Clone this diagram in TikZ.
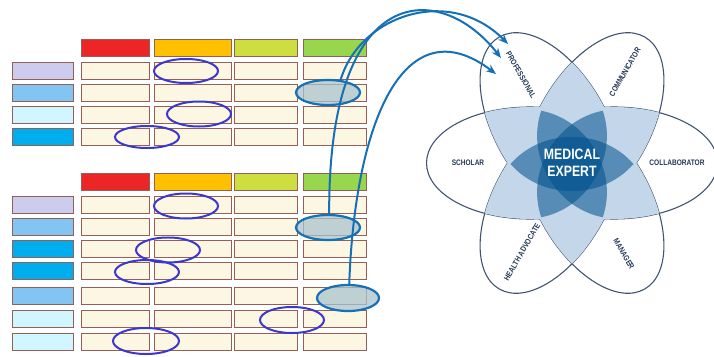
\documentclass[tikz,border=0pt]{standalone}
\usepackage{fontspec}
\newfontfamily\petalfont[FakeStretch=0.82]{Liberation Sans}
\usetikzlibrary{shapes.geometric,arrows.meta}

\definecolor{cellfill}{RGB}{252,247,226}
\definecolor{cellline}{RGB}{150,95,85}
\definecolor{hred}{RGB}{236,38,38}
\definecolor{horange}{RGB}{255,192,0}
\definecolor{hlime}{RGB}{204,222,64}
\definecolor{hgreen}{RGB}{152,214,78}
\definecolor{lav}{RGB}{204,204,238}
\definecolor{skyb}{RGB}{130,196,242}
\definecolor{palec}{RGB}{208,246,255}
\definecolor{deepb}{RGB}{0,174,239}
\definecolor{ringc}{RGB}{60,55,205}
\definecolor{arrowc}{RGB}{22,112,182}
\definecolor{markfill}{RGB}{170,195,205}
\definecolor{petline}{RGB}{65,85,115}
\definecolor{petlight}{RGB}{195,214,234}
\definecolor{petdark}{RGB}{0,80,140}
\definecolor{labc}{RGB}{35,55,85}

\tikzset{
  cell/.style={draw=cellline, line width=0.8pt, fill=cellfill, inner sep=0pt, minimum height=17pt},
  ring/.style={ellipse, draw=ringc, line width=2pt, inner sep=0pt},
  pick/.style={ellipse, draw=arrowc, line width=2.2pt, fill=markfill, fill opacity=0.75, inner sep=0pt},
  petal/.style={shift={(572,163)}, rotate=60*#1},
  lens/.style={shift={(572,164)}, rotate=60*#1, fill=petdark, fill opacity=0.55},
  role/.style={font=\petalfont\bfseries\fontsize{8}{9}\selectfont, text=labc, inner sep=1pt},
  link/.style={draw=arrowc, line width=2pt, -{Stealth[length=10pt,width=8pt]}},
}

\begin{document}
\begin{tikzpicture}[x=1pt, y=-1pt]
   \useasboundingbox (0,0) rectangle (714,356);
   \def\cols{115/68, 192.5/77, 265.5/63, 334.5/63}
   \def\ax{103.5}  % petal half length
   \def\bx{56}     % petal half width

   % upper table
   \foreach \x/\w/\col [count=\c] in {115/68/hred, 192.5/77/horange, 265.5/63/hlime, 334.5/63/hgreen}
      \node[cell, fill=\col, minimum width=\w pt] (t-h\c) at (\x,48) {};
   \foreach \y/\col [count=\r] in {71/lav, 93/skyb, 115/palec, 137/deepb}{
      \node[cell, fill=\col, minimum width=61pt] (t-l\r) at (42.5,\y) {};
      \foreach \x/\w [count=\c] in \cols
         \node[cell, minimum width=\w pt] (t-\r-\c) at (\x,\y) {};
   }

   % lower table
   \foreach \x/\w/\col [count=\c] in {115/68/hred, 192.5/77/horange, 265.5/63/hlime, 334.5/63/hgreen}
      \node[cell, fill=\col, minimum width=\w pt] (b-h\c) at (\x,182) {};
   \foreach \y/\col [count=\r] in {205/lav, 227/skyb, 249/deepb, 271/deepb, 296/skyb, 319/palec, 342/palec}{
      \node[cell, fill=\col, minimum width=61pt] (b-l\r) at (42.5,\y) {};
      \foreach \x/\w [count=\c] in \cols
         \node[cell, minimum width=\w pt] (b-\r-\c) at (\x,\y) {};
   }

   % marks on the tables
   \node[ring, minimum width=64pt, minimum height=24pt] (t-o1) at (186,71) {};
   \node[pick, minimum width=64pt, minimum height=25pt] (t-o2) at (328,92.5) {};
   \node[ring, minimum width=64pt, minimum height=25pt] (t-o3) at (199,114) {};
   \node[ring, minimum width=64pt, minimum height=22pt] (t-o4) at (147,137) {};
   \node[ring, minimum width=64pt, minimum height=25pt] (b-o1) at (186,206) {};
   \node[pick, minimum width=64pt, minimum height=25pt] (b-o2) at (328,227.5) {};
   \node[ring, minimum width=64pt, minimum height=25pt] (b-o3) at (168,250) {};
   \node[ring, minimum width=64pt, minimum height=24pt] (b-o4) at (147,272) {};
   \node[pick, minimum width=62pt, minimum height=26pt] (b-o5) at (348,298) {};
   \node[ring, minimum width=64pt, minimum height=26pt] (b-o6) at (292,320) {};
   \node[ring, minimum width=66pt, minimum height=26pt] (b-o7) at (146,341) {};

   % flower
   \foreach \i in {0,...,5}
      \draw[petal=\i, petline, line width=1.1pt] (42,0) ellipse [x radius=\ax, y radius=\bx];
   \foreach \i in {1,...,5}{
      \pgfmathtruncatemacro{\k}{\i-1}
      \foreach \j in {0,...,\k}{
         \begin{scope}
            \clip[petal=\i] (42,0) ellipse [x radius=\ax, y radius=\bx];
            \fill[petal=\j, petlight] (42,0) ellipse [x radius=\ax, y radius=\bx];
         \end{scope}
      }
   }
   \foreach \i in {0,1,2}
      \fill[lens=\i] (-61.5,0) to[bend left=49] (61.5,0) to[bend left=49] (-61.5,0);

   \node[role] (scholar) at (468,163) {SCHOLAR};
   \node[role] (collab) at (677,163) {COLLABORATOR};
   \node[role, rotate=-60] (prof) at (521,75) {PROFESSIONAL};
   \node[role, rotate=60] (comm) at (625,72) {COMMUNICATOR};
   \node[role, rotate=60] (health) at (522,252) {HEALTH ADVOCATE};
   \node[role, rotate=-60] (manager) at (624,254) {MANAGER};
   \node[align=center, text=white, font=\petalfont\bfseries\fontsize{15}{17}\selectfont] (expert) at (572,163) {MEDICAL\\EXPERT};

   % arrows to the professional petal
   \coordinate (p1) at (508,44);
   \coordinate (p2) at (501,58);
   \coordinate (p3) at (496,74);
   \draw[link] (t-o2.45) .. controls (360,15) and (450,-15) .. (p1);
   \draw[link] (b-o2.85) .. controls (328,-20) and (440,-20) .. (p2);
   \draw[link] (b-o5.85) .. controls (355,120) and (405,5) .. (p3);
\end{tikzpicture}
\end{document}
